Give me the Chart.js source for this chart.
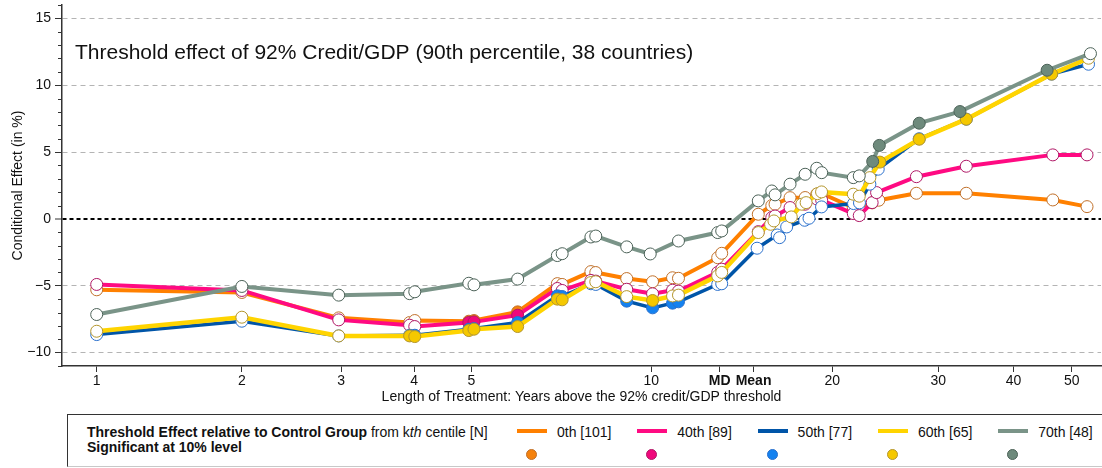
<!DOCTYPE html>
<html>
<head>
<meta charset="utf-8">
<script src="https://cdn.jsdelivr.net/npm/chart.js@4.4.1/dist/chart.umd.min.js"></script>
<style>
    html, body { margin: 0; padding: 0; background: #fff; }
    body { width: 1102px; height: 468px; position: relative; overflow: hidden; font-family: 'Liberation Sans', Arial, Helvetica, sans-serif; color: #111; }
    #chart { position: absolute; left: 0; top: 0; }
    #legend { position: absolute; left: 67px; top: 414px; width: 1100px; height: 51px; border: 1px solid #333; border-bottom-color: #c8c8c8; }
    .lg { position: absolute; font-size: 14px; line-height: 16px; white-space: nowrap; }
    .sw { position: absolute; width: 30px; height: 4px; }
    .dot { position: absolute; width: 9px; height: 9px; border-radius: 50%; border: 1px solid; }
</style>
</head>
<body>
<canvas id="chart" width="1102" height="412"></canvas>
<div id="legend"></div>
<script>
// --- data (years of treatment, effect in %, significant at 10% = 1) ---
const yrs0 = [1, 2, 2.97, 3.93, 4.01, 4.95, 5.05, 5.98, 6.97, 7.1, 7.93, 8.08, 9.1, 10.05, 10.85, 11.1, 12.9, 13.1, 15.07, 15.87, 16.07, 17.02, 18.03, 18.85, 19.21, 21.68, 22.18, 23.3, 23.9, 27.6, 33.4, 46.5, 53.0]
const eff0 = [-5.3, -5.5, -7.4, -7.75, -7.6, -7.65, -7.6, -6.95, -4.84, -4.9, -3.94, -4.01, -4.46, -4.7, -4.4, -4.44, -2.9, -2.57, 0.35, 1.0, 1.1, 1.59, 1.6, 1.85, 1.9, 0.85, 0.75, 1.2, 1.4, 1.92, 1.92, 1.42, 0.92]
const sig0 = [0, 0, 0, 0, 0, 1, 1, 1, 0, 0, 0, 0, 0, 0, 0, 0, 0, 0, 0, 0, 0, 0, 0, 0, 0, 0, 0, 0, 0, 0, 0, 0, 0]

const yrs40 = [1, 2, 2.97, 3.93, 4.01, 4.95, 5.05, 5.98, 6.97, 7.1, 7.93, 8.08, 9.1, 10.05, 10.85, 11.1, 12.9, 13.1, 15.07, 15.87, 16.07, 17.02, 18.03, 18.85, 19.21, 21.68, 22.18, 23.3, 23.7, 27.6, 33.4, 46.5, 53.0]
const eff40 = [-4.9, -5.35, -7.55, -7.95, -8.05, -7.75, -7.7, -7.2, -5.2, -5.35, -4.6, -4.65, -5.26, -5.6, -5.33, -5.4, -4.0, -3.76, -0.95, 0.1, 0.22, 0.85, 1.1, 1.5, 1.4, 0.4, 0.25, 1.22, 1.97, 3.16, 3.94, 4.79, 4.79]
const sig40 = [0, 0, 0, 0, 0, 1, 1, 1, 0, 0, 0, 0, 0, 0, 0, 0, 0, 0, 0, 0, 0, 0, 0, 0, 0, 0, 0, 0, 0, 0, 0, 0, 0]

const yrs50 = [1, 2, 2.97, 3.93, 4.01, 4.95, 5.05, 5.98, 6.97, 7.1, 7.93, 8.08, 9.1, 10.05, 10.85, 11.1, 12.9, 13.1, 15.0, 16.2, 16.35, 16.8, 18.0, 18.3, 19.2, 21.7, 22.2, 23.1, 23.85, 27.9, 33.4, 46.3, 53.3]
const eff50 = [-8.65, -7.65, -8.75, -8.7, -8.7, -8.25, -8.2, -7.75, -5.75, -5.8, -4.85, -4.9, -6.15, -6.65, -6.3, -6.2, -4.9, -4.85, -2.19, -1.2, -1.4, -0.6, -0.1, 0.05, 0.9, 1.15, 1.2, 2.6, 3.72, 6.0, 7.46, 10.83, 11.57]
const sig50 = [0, 0, 0, 1, 1, 1, 1, 1, 1, 1, 0, 0, 1, 1, 1, 1, 0, 0, 0, 0, 0, 0, 0, 0, 0, 0, 0, 0, 0, 1, 1, 1, 0]

const yrs60 = [1, 2, 2.97, 3.93, 4.01, 4.95, 5.05, 5.98, 6.97, 7.1, 7.93, 8.08, 9.1, 10.05, 10.85, 11.1, 12.9, 13.1, 15.07, 15.8, 16.0, 17.1, 17.8, 18.1, 18.9, 19.2, 21.68, 22.18, 23.1, 24.0, 27.9, 33.4, 46.3, 53.3]
const eff60 = [-8.4, -7.35, -8.75, -8.75, -8.8, -8.35, -8.25, -8.05, -6.0, -6.05, -4.76, -4.7, -5.81, -6.1, -5.76, -5.7, -4.26, -4.0, -1.02, -0.4, -0.15, 0.15, 1.1, 1.22, 1.89, 2.02, 1.85, 1.7, 3.09, 4.25, 5.96, 7.46, 10.83, 12.02]
const sig60 = [0, 0, 0, 1, 1, 1, 1, 1, 1, 1, 0, 0, 0, 1, 0, 0, 0, 0, 0, 0, 0, 0, 0, 0, 0, 0, 0, 0, 0, 1, 1, 1, 1, 0]

const yrs70 = [1, 2, 2.97, 3.93, 4.01, 4.95, 5.05, 5.98, 6.97, 7.1, 7.93, 8.08, 9.1, 9.96, 11.1, 12.9, 13.1, 15.07, 15.87, 16.07, 17.02, 18.03, 18.85, 19.21, 21.68, 22.18, 23.35, 23.95, 27.9, 32.6, 45.5, 53.7]
const eff70 = [-7.15, -5.05, -5.7, -5.59, -5.45, -4.81, -4.93, -4.5, -2.74, -2.6, -1.35, -1.28, -2.09, -2.62, -1.65, -1.02, -0.9, 1.35, 2.09, 1.8, 2.6, 3.34, 3.79, 3.46, 3.09, 3.22, 4.3, 5.5, 7.16, 8.03, 11.12, 12.36]
const sig70 = [0, 0, 0, 0, 0, 0, 0, 0, 0, 0, 0, 0, 0, 0, 0, 0, 0, 0, 0, 0, 0, 0, 0, 0, 0, 0, 1, 1, 1, 1, 1, 0]

const seriesLabels = ['0th [101]', '40th [89]', '50th [77]', '60th [65]', '70th [48]']
const xTickValues = [1, 2, 3, 4, 5, 10, 13, 14.8, 20, 30, 40, 50]
const xTickLabels = ['1', '2', '3', '4', '5', '10', 'MD', 'Mean', '20', '30', '40', '50']
const yTickValues = [-10, -5, 0, 5, 10, 15]

const FONT = "'Liberation Sans', Arial, Helvetica, sans-serif"

// --- styles per series ---
const STYLES = [
    { line: '#ff8000', fill: '#f5820d', edge: '#c0702a', width: 4 },
    { line: '#ff0a82', fill: '#f0087c', edge: '#b01866', width: 4 },
    { line: '#0055a8', fill: '#1482f0', edge: '#2a70cc', width: 3.5 },
    { line: '#ffd400', fill: '#f5c800', edge: '#b4962d', width: 4.5 },
    { line: '#7a9488', fill: '#6e8a7c', edge: '#4c6258', width: 4 },
]

// axis is log-like but squeezed at the short end, as in the original figure
const xPos = x => Math.log10(x) + 0.08 / (x * x)

const SERIES = [
    [yrs0, eff0, sig0],
    [yrs40, eff40, sig40],
    [yrs50, eff50, sig50],
    [yrs60, eff60, sig60],
    [yrs70, eff70, sig70],
]

const datasets = SERIES.map(([yrs, eff, sig], i) => {
    const s = STYLES[i]
    return {
        label: seriesLabels[i],
        data: yrs.map((x, j) => ({ x: xPos(x), y: eff[j] })),
        borderColor: s.line,
        borderWidth: s.width,
        pointRadius: 6,
        pointBorderWidth: 1,
        pointBorderColor: s.edge,
        pointBackgroundColor: sig.map(v => v ? s.fill : '#ffffff'),
        tension: 0,
        order: SERIES.length - i,
    }
})

// minor ticks on the y axis + title inside the plot
const extras = {
    id: 'extras',
    afterDraw(chart) {
        const { ctx, chartArea } = chart
        const y = chart.scales.y
        ctx.save()
        ctx.strokeStyle = '#333'
        ctx.lineWidth = 1
        for (let v = Math.ceil(y.min); v <= y.max; v++) {
            if (v % 5 === 0) continue
            const py = Math.round(y.getPixelForValue(v)) + 0.5
            ctx.beginPath()
            ctx.moveTo(chartArea.left - 4, py)
            ctx.lineTo(chartArea.left, py)
            ctx.stroke()
        }
        ctx.fillStyle = '#111'
        ctx.font = `21px ${FONT}`
        ctx.textBaseline = 'alphabetic'
        ctx.fillText('Threshold effect of 92% Credit/GDP (90th percentile, 38 countries)', 75, 59)
        ctx.restore()
    }
}

new Chart(document.getElementById('chart'), {
    type: 'line',
    data: { datasets },
    plugins: [extras],
    options: {
        responsive: false,
        animation: false,
        devicePixelRatio: 1,
        layout: { autoPadding: false, padding: { left: 0, top: 5, right: 1, bottom: 0 } },
        plugins: { legend: { display: false }, tooltip: { enabled: false } },
        scales: {
            x: {
                type: 'linear',
                min: 0.0224,
                max: 1.7475,
                afterBuildTicks: scale => { scale.ticks = xTickValues.map(v => ({ value: xPos(v) })) },
                afterFit: scale => {
                    scale.height = 46
                    scale.paddingLeft = 0
                    scale.paddingRight = 0
                },
                ticks: {
                    autoSkip: false,
                    maxRotation: 0,
                    padding: 1,
                    color: '#111',
                    font: ctx => ({ family: FONT, size: 14, weight: ctx.index === 6 || ctx.index === 7 ? 'bold' : 'normal' }),
                    callback: (val, idx) => xTickLabels[idx],
                },
                grid: { drawOnChartArea: false, drawTicks: true, tickLength: 6, tickColor: '#333', tickWidth: 1 },
                border: { display: true, color: '#333', width: 1.5 },
                title: {
                    display: true,
                    text: 'Length of Treatment: Years above the 92% credit/GDP threshold',
                    color: '#111',
                    font: { family: FONT, size: 14 },
                    padding: { top: 0, bottom: 6 },
                },
            },
            y: {
                min: -11,
                max: 16,
                afterBuildTicks: scale => { scale.ticks = yTickValues.map(v => ({ value: v })) },
                afterFit: scale => {
                    scale.width = 62
                    scale.paddingTop = 0
                    scale.paddingBottom = 0
                },
                ticks: {
                    padding: 4,
                    color: '#111',
                    font: { family: FONT, size: 14 },
                    callback: v => v < 0 ? '\u2212' + Math.abs(v) : String(v),
                },
                grid: {
                    drawTicks: true,
                    tickLength: 7,
                    tickColor: '#333',
                    tickWidth: 1,
                    tickBorderDash: [],
                    color: ctx => ctx.tick && ctx.tick.value === 0 ? '#000' : '#b4b4b4',
                    lineWidth: ctx => ctx.tick && ctx.tick.value === 0 ? 2 : 1,
                },
                border: {
                    display: true, color: '#333', width: 1.5,
                    dash: ctx => ctx.tick && ctx.tick.value === 0 ? [4, 3] : [5, 4],
                },
                title: {
                    display: true,
                    text: 'Conditional Effect (in %)',
                    color: '#111',
                    font: { family: FONT, size: 14 },
                    padding: { top: 10, bottom: 0 },
                },
            },
        },
    },
})

// --- legend box below the chart ---
function renderLegend() {
    const box = document.getElementById('legend')
    const add = (html, cls, css) => {
        const el = document.createElement('div')
        el.className = cls
        el.style.cssText = css
        el.innerHTML = html
        box.appendChild(el)
    }
    add('<b>Threshold Effect relative to Control Group</b> from k<i>th</i> centile [N]', 'lg', 'left:19px;top:9px')
    add('<b>Significant at 10% level</b>', 'lg', 'left:19px;top:24px')
    seriesLabels.forEach((label, i) => {
        const s = STYLES[i]
        const x0 = 449 + i * 120.3
        add('', 'sw', `left:${x0}px;top:14px;background:${s.line}`)
        add(label, 'lg', `left:${x0 + 40}px;top:9px`)
        add('', 'dot', `left:${x0 + 9}px;top:34px;background:${s.fill};border-color:${s.edge}`)
    })
}
renderLegend()
</script>
</body>
</html>
